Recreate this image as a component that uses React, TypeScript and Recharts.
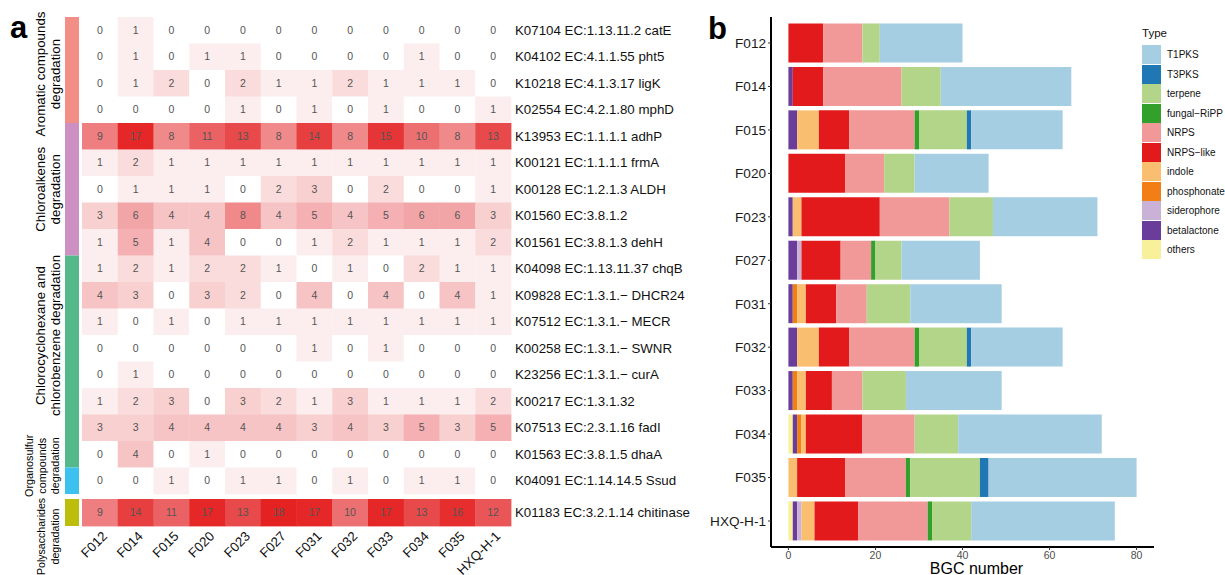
import React from 'react';
import {
  ScatterChart, Scatter, XAxis, YAxis, ReferenceArea,
  BarChart, Bar, Legend, Label,
} from 'recharts';

const FONT = '"Liberation Sans", Arial, Helvetica, sans-serif';

// ================= Panel a : heatmap data =================
const SAMPLES = ['F012', 'F014', 'F015', 'F020', 'F023', 'F027', 'F031', 'F032', 'F033', 'F034', 'F035', 'HXQ-H-1'];

const GENE_LABELS = [
  'K07104 EC:1.13.11.2 catE',
  'K04102 EC:4.1.1.55 pht5',
  'K10218 EC:4.1.3.17 ligK',
  'K02554 EC:4.2.1.80 mphD',
  'K13953 EC:1.1.1.1 adhP',
  'K00121 EC:1.1.1.1 frmA',
  'K00128 EC:1.2.1.3 ALDH',
  'K01560 EC:3.8.1.2',
  'K01561 EC:3.8.1.3 dehH',
  'K04098 EC:1.13.11.37 chqB',
  'K09828 EC:1.3.1.\u2212 DHCR24',
  'K07512 EC:1.3.1.\u2212 MECR',
  'K00258 EC:1.3.1.\u2212 SWNR',
  'K23256 EC:1.3.1.\u2212 curA',
  'K00217 EC:1.3.1.32',
  'K07513 EC:2.3.1.16 fadI',
  'K01563 EC:3.8.1.5 dhaA',
  'K04091 EC:1.14.14.5 Ssud',
  'K01183 EC:3.2.1.14 chitinase',
];

const K07104 = [0, 1, 0, 0, 0, 0, 0, 0, 0, 0, 0, 0];
const K04102 = [0, 1, 0, 1, 1, 0, 0, 0, 0, 1, 0, 0];
const K10218 = [0, 1, 2, 0, 2, 1, 1, 2, 1, 1, 1, 0];
const K02554 = [0, 0, 0, 0, 1, 0, 1, 0, 1, 0, 0, 1];
const K13953 = [9, 17, 8, 11, 13, 8, 14, 8, 15, 10, 8, 13];
const K00121 = [1, 2, 1, 1, 1, 1, 1, 1, 1, 1, 1, 1];
const K00128 = [0, 1, 1, 1, 0, 2, 3, 0, 2, 0, 0, 1];
const K01560 = [3, 6, 4, 4, 8, 4, 5, 4, 5, 6, 6, 3];
const K01561 = [1, 5, 1, 4, 0, 0, 1, 2, 1, 1, 1, 2];
const K04098 = [1, 2, 1, 2, 2, 1, 0, 1, 0, 2, 1, 1];
const K09828 = [4, 3, 0, 3, 2, 0, 4, 0, 4, 0, 4, 1];
const K07512 = [1, 0, 1, 0, 1, 1, 1, 1, 1, 1, 1, 1];
const K00258 = [0, 0, 0, 0, 0, 0, 1, 0, 1, 0, 0, 0];
const K23256 = [0, 1, 0, 0, 0, 0, 0, 0, 0, 0, 0, 0];
const K00217 = [1, 2, 3, 0, 3, 2, 1, 3, 1, 1, 1, 2];
const K07513 = [3, 3, 4, 4, 4, 4, 3, 4, 3, 5, 3, 5];
const K01563 = [0, 4, 0, 1, 0, 0, 0, 0, 0, 0, 0, 0];
const K04091 = [0, 0, 1, 0, 1, 1, 0, 1, 0, 1, 1, 0];
const K01183 = [9, 14, 11, 17, 13, 18, 17, 10, 17, 13, 16, 12];

const HEAT_ROWS = [
  K07104, K04102, K10218, K02554, K13953, K00121, K00128, K01560, K01561,
  K04098, K09828, K07512, K00258, K23256, K00217, K07513, K01563, K04091, K01183,
];

const GROUP_LINES = [
  ['Aromatic compounds', 'degradation'],
  ['Chloroalkenes', 'degradation'],
  ['Chlorocyclohexane and', 'chlorobenzene degradation'],
  ['Organosulfur', 'compounds', 'degradation'],
  ['Polysaccharides', 'degradation'],
];
const GROUP_START = [0, 4, 9, 17, 18];
const GROUP_END = [3, 8, 16, 17, 18];
const GROUP_COLORS = ['#F28E86', '#CD90C3', '#55B88A', '#3DC1EF', '#BDBD0C'];

// heat colour stops (value -> colour)
const HEAT_STOP_VALUES = [0, 1, 2, 3, 4, 5, 6, 8, 9, 10, 11, 13, 14, 15, 17, 18];
const HEAT_STOP_COLORS = ['#FFFFFF', '#FCEEEE', '#FADCDD', '#F8D0D0', '#F6C4C5', '#F4B0B2', '#F2A5A7',
  '#EF898A', '#EE7E80', '#EC6F71', '#EB6264', '#E8494B', '#E73E3F', '#E63536', '#E52727', '#E42222'];

// ================= Panel b : BGC data =================
const T1PKS = [19, 30, 21, 17, 24, 18, 21, 21, 22, 33, 34, 33];
const T3PKS = [0, 0, 1, 0, 0, 0, 0, 1, 0, 0, 2, 0];
const terpene = [4, 9, 11, 7, 10, 6, 10, 11, 10, 10, 16, 9];
const fungalRiPP = [0, 0, 1, 0, 0, 1, 0, 1, 0, 0, 1, 1];
const NRPS = [9, 18, 15, 9, 16, 7, 7, 15, 7, 12, 14, 16];
const NRPSlike = [8, 7, 7, 13, 18, 9, 7, 7, 6, 13, 11, 10];
const indole = [0, 0, 5, 0, 2, 0, 2, 5, 2, 1, 2, 3];
const phosphonate = [0, 0, 0, 0, 0, 0, 1, 0, 1, 1, 0, 0];
const siderophore = [0, 0, 0, 0, 0, 1, 0, 0, 0, 0, 0, 1];
const betalactone = [0, 1, 2, 0, 1, 2, 1, 2, 1, 1, 0, 1];
const others = [0, 0, 0, 0, 0, 0, 0, 0, 0, 1, 0, 1];

const TYPE_KEYS = ['T1PKS', 'T3PKS', 'terpene', 'fungalRiPP', 'NRPS', 'NRPSlike', 'indole', 'phosphonate', 'siderophore', 'betalactone', 'others'];
const TYPE_LABELS = ['T1PKS', 'T3PKS', 'terpene', 'fungal\u2212RiPP', 'NRPS', 'NRPS\u2212like', 'indole', 'phosphonate', 'siderophore', 'betalactone', 'others'];
const TYPE_VALUES = [T1PKS, T3PKS, terpene, fungalRiPP, NRPS, NRPSlike, indole, phosphonate, siderophore, betalactone, others];
const TYPE_COLORS = ['#A6CEE3', '#1F78B4', '#B3D58A', '#33A02C', '#F19899', '#E31A1C', '#F9BE6F', '#F27F16', '#CAB2D6', '#6A3D9A', '#F8F09A'];

const BGC_TICKS = [0, 20, 40, 60, 80];

// ================= helpers =================
const hexToRgb = (h: string) => [parseInt(h.slice(1, 3), 16), parseInt(h.slice(3, 5), 16), parseInt(h.slice(5, 7), 16)];
const heatColor = (v: number) => {
  for (let i = 0; i < HEAT_STOP_VALUES.length - 1; i++) {
    const a = HEAT_STOP_VALUES[i], b = HEAT_STOP_VALUES[i + 1];
    if (v >= a && v <= b) {
      const t = (v - a) / (b - a);
      const ca = hexToRgb(HEAT_STOP_COLORS[i]), cb = hexToRgb(HEAT_STOP_COLORS[i + 1]);
      const c = ca.map((x, k) => Math.round(x + (cb[k] - x) * t));
      return `rgb(${c[0]},${c[1]},${c[2]})`;
    }
  }
  return HEAT_STOP_COLORS[HEAT_STOP_COLORS.length - 1];
};

// layout constants (styles)
const HM_LEFT = 82;
const HM_RIGHT = 511;
const HM_TOP = 17;
const HM_BOTTOM = 494;
const CELL_W = (HM_RIGHT - HM_LEFT) / 12;
const CELL_H = (HM_BOTTOM - HM_TOP) / 18;
const ANNOT_X1 = -0.5 - 17 / CELL_W;
const ANNOT_X2 = -0.5 - 3 / CELL_W;

const GROUP_LABEL_STYLE = [
  { fontSize: 13.3, baselines: [45, 60], dy: 4 },
  { fontSize: 13.3, baselines: [45, 60], dy: 0 },
  { fontSize: 13.3, baselines: [45, 60], dy: -26 },
  { fontSize: 10.8, baselines: [33, 46, 59], dy: -15 },
  { fontSize: 10.6, baselines: [45, 59], dy: 24 },
];

const mainCells = HEAT_ROWS.slice(0, 18).flatMap((vals, r) => vals.map((v, c) => ({ col: c, row: r, v })));
const chitCells = HEAT_ROWS[18].map((v, c) => ({ col: c, row: 18, v }));
const MAIN_ROW_TICKS = HEAT_ROWS.slice(0, 18).map((_, i) => i);
const COL_TICKS = SAMPLES.map((_, i) => i);

const barData = SAMPLES.map((name, i) => {
  const o: any = { name };
  TYPE_KEYS.forEach((k, j) => { o[k] = TYPE_VALUES[j][i]; });
  return o;
});

// ================= components =================
const HeatCell = (props: any) => {
  const { cx, cy, payload, h } = props;
  if (cx == null || cy == null) return null;
  const hh = h || CELL_H;
  return (
    <g>
      <rect x={cx - CELL_W / 2} y={cy - hh / 2} width={CELL_W + 0.4} height={hh + 0.4} fill={heatColor(payload.v)} />
      <text x={cx} y={cy} dy="0.35em" textAnchor="middle" fontSize={10.5} fill="#555" fontFamily={FONT}>{payload.v}</text>
    </g>
  );
};

const GeneTick = (props: any) => {
  const { x, y, payload } = props;
  return (
    <text x={x} y={y} dy="0.35em" textAnchor="start" fontSize={13.3} fill="#111" fontFamily={FONT}>
      {GENE_LABELS[payload.value]}
    </text>
  );
};

const SampleTick = (props: any) => {
  const { x, y, payload } = props;
  return (
    <text transform={`translate(${x + 8},${y + 11}) rotate(-45)`} textAnchor="end" fontSize={13.3} fill="#111" fontFamily={FONT}>
      {SAMPLES[payload.value]}
    </text>
  );
};

const GroupLabel = (props: any) => {
  const { viewBox, gi } = props;
  if (!viewBox) return null;
  const st = GROUP_LABEL_STYLE[gi];
  const cy = viewBox.y + viewBox.height / 2 + st.dy;
  return (
    <text transform={`translate(0,${cy}) rotate(-90)`} textAnchor="middle" fontSize={st.fontSize} fill="#000" fontFamily={FONT}>
      {GROUP_LINES[gi].map((l, i) => (
        <tspan key={i} x={0} y={st.baselines[i]}>{l}</tspan>
      ))}
    </text>
  );
};

const groupArea = (gi: number) => (
  <ReferenceArea
    key={`g${gi}`}
    x1={ANNOT_X1}
    x2={ANNOT_X2}
    y1={GROUP_START[gi] - 0.5}
    y2={GROUP_END[gi] + 0.5}
    fill={GROUP_COLORS[gi]}
    fillOpacity={1}
    stroke="none"
    ifOverflow="visible"
    label={<GroupLabel gi={gi} />}
  />
);

const TypeLegend = () => (
  <div style={{ width: 90, fontFamily: FONT, color: '#111' }}>
    <div style={{ fontSize: 11.5, height: 17, lineHeight: '17px', marginBottom: 3 }}>Type</div>
    {TYPE_LABELS.map((t, i) => (
      <div key={t} style={{ display: 'flex', alignItems: 'center', height: 19.5 }}>
        <div style={{ width: 19, height: 18.7, background: TYPE_COLORS[i] }} />
        <span style={{ marginLeft: 6, fontSize: 10, whiteSpace: 'nowrap' }}>{t}</span>
      </div>
    ))}
  </div>
);

const STACK_ORDER = [...TYPE_KEYS.map((k, i) => i)].reverse();

export default function App() {
  return (
    <div style={{ position: 'absolute', left: 0, top: 0, width: 1225, height: 575, background: '#fff', overflow: 'hidden', fontFamily: FONT }}>
      {/* heatmap main block */}
      <div style={{ position: 'absolute', left: 0, top: 0 }}>
        <ScatterChart width={700} height={500} margin={{ top: HM_TOP, right: 0, bottom: 500 - HM_BOTTOM, left: HM_LEFT }}>
          <XAxis type="number" dataKey="col" domain={[-0.5, 11.5]} hide />
          <YAxis type="number" dataKey="row" domain={[-0.5, 17.5]} reversed orientation="right" width={700 - HM_RIGHT}
            ticks={MAIN_ROW_TICKS} interval={0} axisLine={false} tickLine={false} tickSize={0} tickMargin={4} tick={<GeneTick />} />
          {[0, 1, 2, 3].map(groupArea)}
          <Scatter data={mainCells} shape={(p: any) => <HeatCell {...p} />} isAnimationActive={false} />
        </ScatterChart>
      </div>
      {/* heatmap chitinase block */}
      <div style={{ position: 'absolute', left: 0, top: 494 }}>
        <ScatterChart width={700} height={81} margin={{ top: 5, right: 0, bottom: 0, left: HM_LEFT }}>
          <XAxis type="number" dataKey="col" domain={[-0.5, 11.5]} ticks={COL_TICKS} interval={0} height={49}
            axisLine={false} tickLine={false} tickSize={0} tickMargin={0} tick={<SampleTick />} />
          <YAxis type="number" dataKey="row" domain={[17.5, 18.5]} orientation="right" width={700 - HM_RIGHT}
            ticks={[18]} interval={0} axisLine={false} tickLine={false} tickSize={0} tickMargin={4} tick={<GeneTick />} />
          {groupArea(4)}
          <Scatter data={chitCells} shape={(p: any) => <HeatCell {...p} h={27} />} isAnimationActive={false} />
        </ScatterChart>
      </div>
      {/* BGC stacked bar */}
      <div style={{ position: 'absolute', left: 700, top: 0 }}>
        <BarChart width={525} height={575} layout="vertical" data={barData} barCategoryGap="5%"
          margin={{ top: 17, right: 71, bottom: 0, left: 0 }}>
          <XAxis type="number" domain={[-4, 84]} allowDataOverflow ticks={BGC_TICKS} interval={0} height={28}
            axisLine={{ stroke: '#000', strokeWidth: 2 }} tickLine={{ stroke: '#333' }} tickSize={3} tickMargin={2}
            tick={{ fontSize: 10.5, fill: '#4D4D4D', fontFamily: FONT }}>
            <Label value="BGC number" position="insideBottom" offset={1.5} dx={14} fontSize={16} fill="#000" fontFamily={FONT} />
          </XAxis>
          <YAxis type="category" dataKey="name" width={71} padding={{ top: 4.3, bottom: 4.3 }}
            axisLine={{ stroke: '#000', strokeWidth: 2 }} tickLine={{ stroke: '#333' }} tickSize={3} tickMargin={2}
            tick={{ fontSize: 13.6, fill: '#1a1a1a', fontFamily: FONT }} interval={0} />
          {STACK_ORDER.map((i) => (
            <Bar key={TYPE_KEYS[i]} dataKey={TYPE_KEYS[i]} stackId="bgc" fill={TYPE_COLORS[i]} isAnimationActive={false} />
          ))}
          <Legend layout="vertical" align="center" verticalAlign="middle" content={<TypeLegend />}
            wrapperStyle={{ left: 442, top: 25, right: 'auto', bottom: 'auto', width: 90 }} />
        </BarChart>
      </div>
      {/* panel letters */}
      <svg width={1225} height={575} style={{ position: 'absolute', left: 0, top: 0, pointerEvents: 'none' }}>
        <text x={10} y={38} fontSize={31} fontWeight="bold" fontFamily={FONT} fill="#000">a</text>
        <text x={708} y={39} fontSize={31} fontWeight="bold" fontFamily={FONT} fill="#000">b</text>
      </svg>
    </div>
  );
}
